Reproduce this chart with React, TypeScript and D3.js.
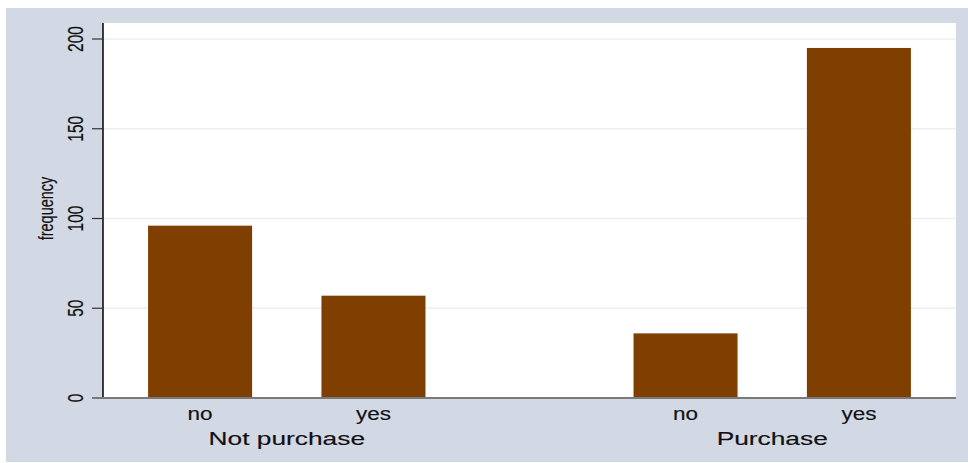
import React from "react";
import * as d3 from "d3";

const groups = ["Not purchase", "Purchase"];
const categories = ["no", "yes"];
const values = [
  [96, 57],
  [36, 195],
];
const yTicks = [0, 50, 100, 150, 200];
const yLabel = "frequency";

const W = 968;
const H = 463;
const plot = { left: 103, right: 956, top: 23, bottom: 398 };
const groupGap = 0.8;
const barWidthSlots = 0.6;
const font = "'Liberation Sans', Arial, Helvetica, sans-serif";
const barColor = "#7E3F00";
const textStyle = { fill: "#111", stroke: "#111", strokeWidth: 0.15 };

export default function App() {
  const slots: { g: number; c: number; pos: number; v: number }[] = [];
  groups.forEach((_, gi) =>
    categories.forEach((_, ci) =>
      slots.push({ g: gi, c: ci, pos: gi * (categories.length + groupGap) + ci, v: values[gi][ci] })
    )
  );
  const maxPos = d3.max(slots, (d) => d.pos) as number;
  const pad = 0.56;
  const x = d3.scaleLinear().domain([-pad, maxPos + pad]).range([plot.left, plot.right]);
  const y = d3.scaleLinear().domain([0, 200]).range([plot.bottom, plot.bottom - 359]);
  const bw = x(barWidthSlots) - x(0);

  const groupCenters = groups.map((_, gi) => {
    const ps = slots.filter((s) => s.g === gi).map((s) => s.pos);
    return x(((d3.min(ps) as number) + (d3.max(ps) as number)) / 2);
  });

  return (
    <svg width={W} height={H} style={{ position: "absolute", left: 0, top: 0 }} fontFamily={font}>
      <rect x={0} y={0} width={W} height={H} fill="#ffffff" />
      <rect x={6} y={8} width={W - 6} height={454} fill="#D3D9E4" />
      <rect
        x={plot.left}
        y={plot.top}
        width={plot.right - plot.left}
        height={plot.bottom - plot.top}
        fill="#ffffff"
      />
      {yTicks
        .filter((t) => t > 0)
        .map((t) => (
          <line key={"g" + t} x1={plot.left} x2={plot.right} y1={y(t)} y2={y(t)} stroke="#EAF0F2" strokeWidth={1.5} />
        ))}
      {slots.map((s, i) => (
        <rect key={i} x={x(s.pos) - bw / 2} y={y(s.v)} width={bw} height={y(0) - y(s.v)} fill={barColor} />
      ))}
      {/* y axis */}
      <line x1={plot.left} x2={plot.left} y1={plot.top} y2={plot.bottom} stroke="#000" strokeWidth={1.5} />
      {yTicks.map((t) => (
        <g key={"t" + t}>
          <line x1={92} x2={plot.left} y1={y(t)} y2={y(t)} stroke="#333" strokeWidth={1.2} />
          <text
            transform={`translate(83,${y(t)}) scale(1.45,1) rotate(-90)`}
            textAnchor="middle"
            fontSize={15.5}
            {...textStyle}
          >
            {t}
          </text>
        </g>
      ))}
      <text
        transform={`translate(52.5,${(plot.top + plot.bottom) / 2 - 2}) scale(1.37,1) rotate(-90)`}
        textAnchor="middle"
        fontSize={14.5}
        {...textStyle}
      >
        {yLabel}
      </text>
      {/* x axis */}
      <line x1={93} x2={plot.right} y1={plot.bottom} y2={plot.bottom} stroke="#7a7a7a" strokeWidth={2} />
      {slots.map((s, i) => (
        <text
          key={"c" + i}
          transform={`translate(${x(s.pos)},420) scale(1.25,1)`}
          textAnchor="middle"
          fontSize={18}
          {...textStyle}
        >
          {categories[s.c]}
        </text>
      ))}
      {groups.map((g, gi) => (
        <text
          key={"grp" + gi}
          transform={`translate(${groupCenters[gi]},445) scale(1.47,1)`}
          textAnchor="middle"
          fontSize={17.9}
          {...textStyle}
        >
          {g}
        </text>
      ))}
    </svg>
  );
}
